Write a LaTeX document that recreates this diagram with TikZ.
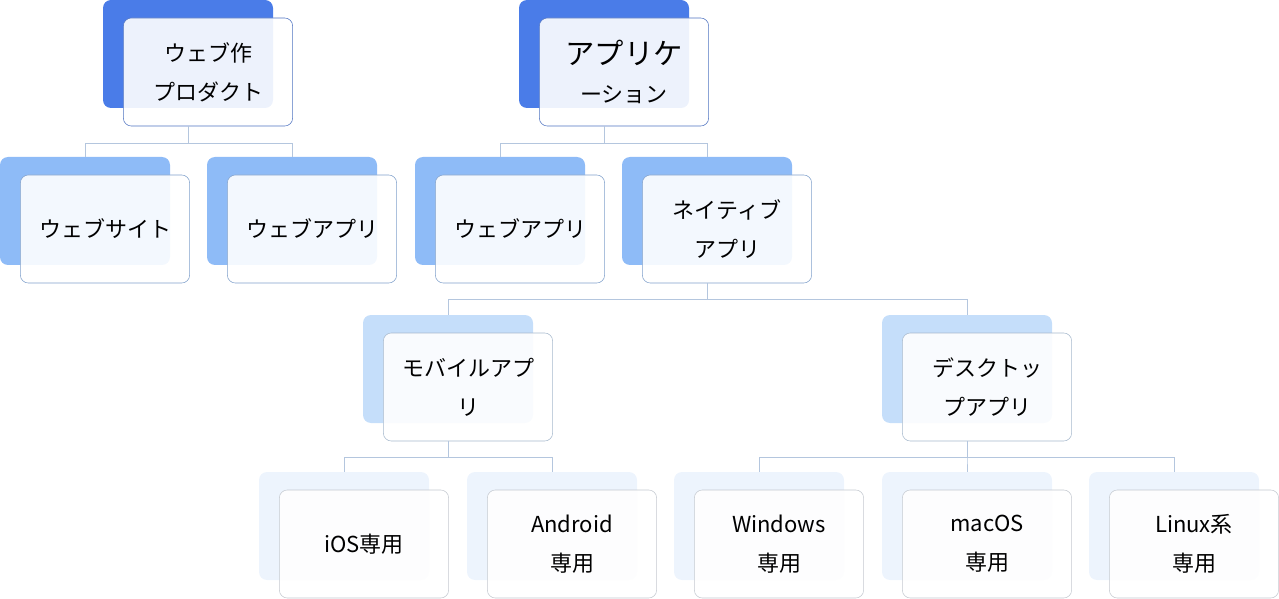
\documentclass[tikz,border=0pt]{standalone}
\usepackage{fontspec}
\setmainfont{Noto Sans CJK JP}
\usetikzlibrary{positioning}
\definecolor{lvA}{HTML}{4A7CE8}
\definecolor{lvB}{HTML}{8EBBF7}
\definecolor{lvC}{HTML}{C5DEFA}
\definecolor{lvD}{HTML}{EDF4FD}
\definecolor{linkc}{HTML}{B4C6DE}
% one card: back box at top left corner (#2,#3), front box shifted
\newcommand{\card}[5]{%
  \node[back, fill=#4] (#1-b) at (#2+85,#3+54) {};
  \node[front, draw=#4!80!black!90] (#1) at (#2+105,#3+72) {#5};
}
\begin{document}
\begin{tikzpicture}[
    x=0.75pt, y=-0.75pt,
    back/.style={rounded corners=6pt, minimum width=127.5pt, minimum height=81pt, inner sep=0},
    front/.style={rounded corners=6pt, minimum width=127pt, minimum height=81pt, inner sep=0,
      fill=white, fill opacity=0.9, text opacity=1, align=center,
      font=\fontsize{16.5pt}{29pt}\selectfont},
    big/.style={font=\fontsize{22pt}{40pt}\selectfont},
    link/.style={draw=linkc, line width=0.6pt}
  ]
  \useasboundingbox (0,0) rectangle (1279,599);
  % level 1
  \card{web}{103}{0}{lvA}{ウェブ作\\プロダクト}
  \card{app}{519}{0}{lvA}{\fontsize{22pt}{40pt}\selectfont アプリケ\\ーション}
  % level 2
  \card{site}{0}{157}{lvB}{ウェブサイト}
  \card{webapp}{207}{157}{lvB}{ウェブアプリ}
  \card{webapp2}{415}{157}{lvB}{ウェブアプリ}
  \card{native}{622}{157}{lvB}{ネイティブ\\アプリ}
  % level 3
  \card{mobile}{363}{315}{lvC}{モバイルアプ\\リ}
  \card{desk}{882}{315}{lvC}{デスクトッ\\プアプリ}
  % level 4
  \card{ios}{259}{472}{lvD}{iOS専用}
  \card{android}{467}{472}{lvD}{Android\\専用}
  \card{win}{674}{472}{lvD}{Windows\\専用}
  \card{mac}{882}{472}{lvD}{macOS\\専用}
  \card{linux}{1089}{472}{lvD}{Linux系\\専用}

  % connectors
  \foreach \p/\c/\m in {web/site/143, web/webapp/143, app/webapp2/143, app/native/143,
      native/mobile/299, native/desk/299,
      mobile/ios/457, mobile/android/457,
      desk/win/457, desk/mac/457, desk/linux/457}{
    \draw[link] (\p-b.center |- \p.south) -- (\p-b.center |- 0,\m) -| (\c-b.north);
  }
\end{tikzpicture}
\end{document}
